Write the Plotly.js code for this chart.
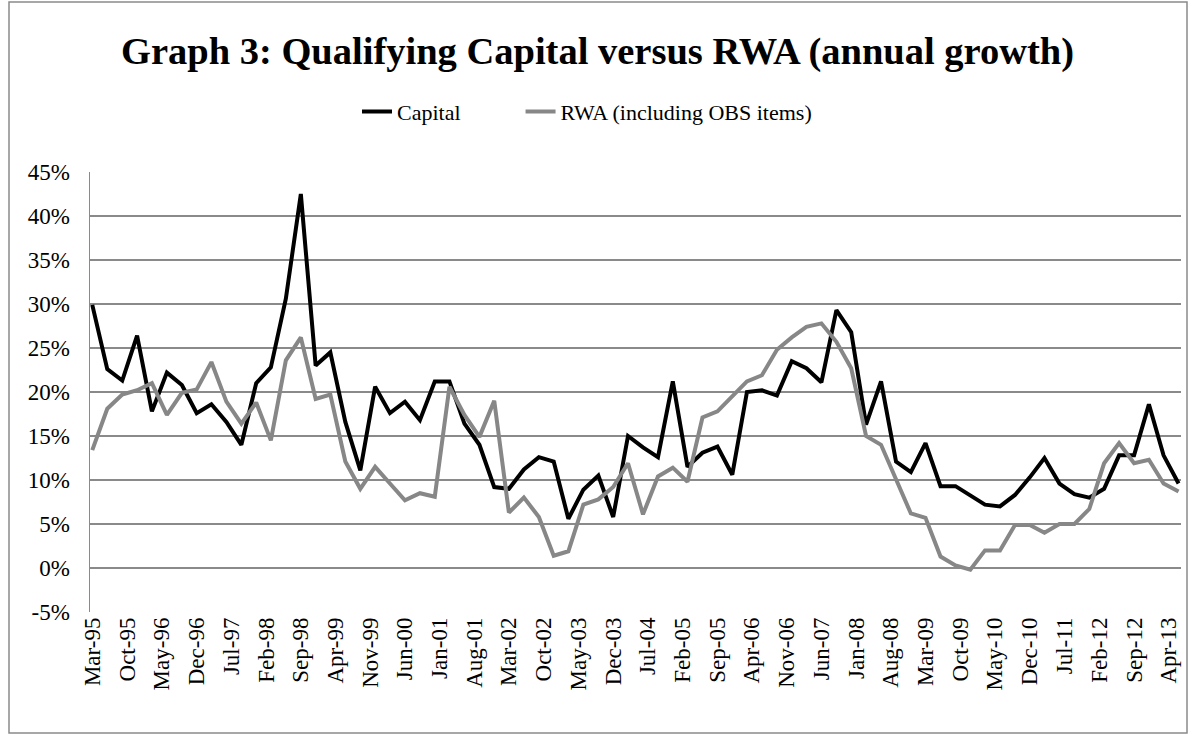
<!DOCTYPE html>
<html>
<head>
<meta charset="utf-8">
<script src="https://cdn.plot.ly/plotly-3.0.1.min.js"></script>
<style>
html,body{margin:0;padding:0;background:#fff;}
#chart{width:1195px;height:737px;}
</style>
</head>
<body>
<div id="chart"></div>
<script>
// Quarterly observations Mar-95 .. Jun-13
const startYear = 1995, startMonth = 3, nQuarters = 74;
const quarters = [];
for (let i = 0; i < nQuarters; i++) {
  const m = startMonth - 1 + 3 * i;
  const y = startYear + Math.floor(m / 12);
  const mm = (m % 12) + 1;
  quarters.push(y + '-' + String(mm).padStart(2, '0') + '-01');
}

const capital = [
  29.9, 22.6, 21.3, 26.4, 17.8, 22.2, 20.8, 17.6, 18.6, 16.6,
  14.0, 21.0, 22.8, 30.6, 42.5, 23.0, 24.5, 16.6, 11.1, 20.6,
  17.6, 18.9, 16.8, 21.2, 21.2, 16.4, 14.0, 9.2, 9.0, 11.2,
  12.6, 12.1, 5.6, 8.9, 10.5, 5.8, 15.0, 13.7, 12.6, 21.2,
  11.5, 13.1, 13.8, 10.6, 20.0, 20.2, 19.6, 23.5, 22.7, 21.1,
  29.3, 26.8, 16.3, 21.2, 12.1, 10.9, 14.2, 9.3, 9.3, 8.3,
  7.2, 7.0, 8.3, 10.3, 12.5, 9.6, 8.4, 8.0, 9.0, 12.8,
  12.8, 18.6, 12.8, 9.6
];

const rwa = [
  13.4, 18.1, 19.7, 20.2, 21.0, 17.4, 19.9, 20.3, 23.4, 18.9,
  16.4, 18.8, 14.5, 23.6, 26.2, 19.2, 19.7, 12.1, 9.0, 11.5,
  9.6, 7.7, 8.5, 8.1, 20.6, 17.4, 14.9, 19.0, 6.3, 8.0,
  5.8, 1.4, 1.9, 7.2, 7.8, 9.2, 11.9, 6.1, 10.4, 11.4,
  9.8, 17.1, 17.8, 19.5, 21.2, 21.9, 24.8, 26.2, 27.4, 27.8,
  25.7, 22.7, 15.0, 14.0, 10.0, 6.2, 5.7, 1.3, 0.3, -0.2,
  2.0, 2.0, 4.9, 4.9, 4.0, 5.0, 5.0, 6.7, 11.9, 14.2,
  11.9, 12.3, 9.6, 8.7
];

const yTickVals = [-5, 0, 5, 10, 15, 20, 25, 30, 35, 40, 45];
const yTickText = ['-5%', '0%', '5%', '10%', '15%', '20%', '25%', '30%', '35%', '40%', '45%'];

const seriesNames = ['Capital', 'RWA (including OBS items)'];
const titleText = 'Graph 3: Qualifying Capital versus RWA (annual growth)';

const serif = 'Liberation Serif, Times New Roman, serif';
const pad = '\u00a0\u00a0\u00a0\u00a0\u00a0\u00a0\u00a0\u00a0\u00a0\u00a0';

const traces = [
  {x: quarters, y: capital, name: seriesNames[0] + pad, type: 'scatter', mode: 'lines',
   line: {color: '#000000', width: 4}},
  {x: quarters, y: rwa, name: seriesNames[1], type: 'scatter', mode: 'lines',
   line: {color: '#878787', width: 4}}
];

const layout = {
  width: 1195, height: 737,
  margin: {l: 90, r: 14, t: 172, b: 125},
  paper_bgcolor: '#ffffff', plot_bgcolor: '#ffffff',
  font: {family: serif, color: '#000000', size: 22},
  title: {text: '<b>' + titleText + '</b>', x: 0.5, xanchor: 'center',
          y: 0.932, yanchor: 'middle', font: {family: serif, size: 38.5, color: '#000'}},
  showlegend: true,
  legend: {orientation: 'h', x: (357 - 90) / 1091, xanchor: 'left', y: 1.137, yanchor: 'middle',
           font: {family: serif, size: 22}, traceorder: 'normal'},
  xaxis: {
    type: 'date',
    range: ['1995-02-15', '2013-06-16'],
    tick0: '1995-03-01', dtick: 'M7', tickformat: '%b-%y',
    tickangle: -90, ticks: '', showgrid: false, zeroline: false,
    showline: false, tickfont: {family: serif, size: 23},
    fixedrange: true
  },
  yaxis: {
    range: [-5, 45], tickmode: 'array', tickvals: yTickVals, ticktext: yTickText,
    showgrid: true, gridcolor: '#8a8a8a', gridwidth: 1.5,
    zeroline: false, showline: true, linecolor: '#8a8a8a', linewidth: 1.5,
    ticks: '', ticklabelstandoff: 14, tickfont: {family: serif, size: 23}, fixedrange: true
  },
  shapes: [
    {type: 'rect', xref: 'paper', yref: 'paper',
     x0: (9 - 90) / 1091, x1: (1187 - 90) / 1091,
     y0: (612 - 733) / 440, y1: (612 - 2) / 440,
     line: {color: '#8a8a8a', width: 1.5}, fillcolor: 'rgba(0,0,0,0)', layer: 'below'}
  ],
  hovermode: false
};

Plotly.newPlot('chart', traces, layout, {displayModeBar: false, staticPlot: true});
</script>
</body>
</html>
